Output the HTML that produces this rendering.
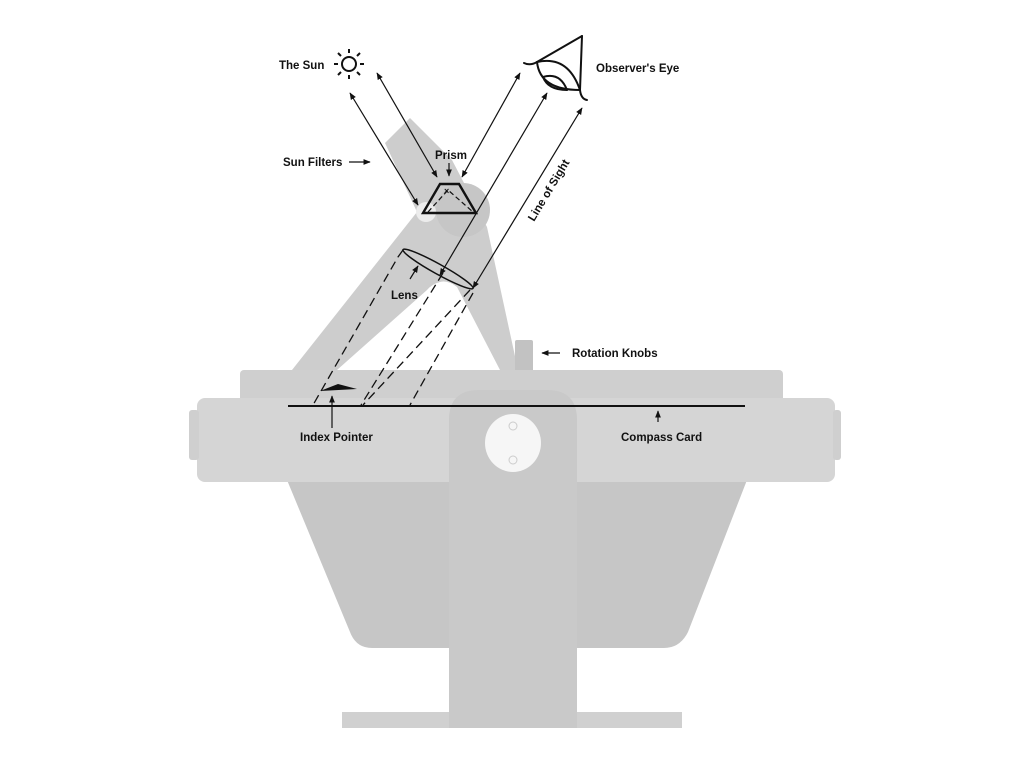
<!DOCTYPE html>
<html><head><meta charset="utf-8"><style>
html,body{margin:0;padding:0;background:#fff;}
svg{display:block;}
text{font-family:"Liberation Sans",sans-serif;font-weight:bold;font-size:11.5px;fill:#111;}
</style></head><body>
<svg width="1024" height="768" viewBox="0 0 1024 768" xmlns="http://www.w3.org/2000/svg">
<defs>
<marker id="ah" viewBox="0 0 10 10" refX="9" refY="5" markerWidth="6" markerHeight="6" orient="auto-start-reverse"><path d="M0,1 L10,5 L0,9 z" fill="#111"/></marker>
</defs>
<!-- arm -->
<path d="M292,370 L417,212 L385,143 L410,118 L432,140 L452,160 L487,227 L518,370 L500,370 L457,287 Q448,280 440,282 Q432,284 427,290 L337,370 Z" fill="#cdcdcd"/>
<circle cx="463" cy="210" r="27" fill="#c6c6c6"/>
<circle cx="426" cy="212" r="10" fill="#ececec"/>
<rect x="515" y="340" width="18" height="32" rx="2" fill="#c2c2c2"/>
<!-- bowl -->
<path d="M287,480 L747,480 L688,632 Q680,648 664,648 L372,648 Q356,648 350,632 Z" fill="#c6c6c6"/>
<!-- upper rim -->
<rect x="240" y="370" width="543" height="32" rx="4" fill="#cfcfcf"/>
<!-- rim band -->
<rect x="197" y="398" width="638" height="84" rx="8" fill="#d5d5d5"/>
<rect x="189" y="410" width="10" height="50" rx="3" fill="#cfcfcf"/>
<rect x="833" y="410" width="8" height="50" rx="3" fill="#cfcfcf"/>
<!-- base and stand -->
<rect x="342" y="712" width="340" height="16" fill="#d0d0d0"/>
<path d="M449,728 L449,420 Q449,390 479,390 L547,390 Q577,390 577,420 L577,728 Z" fill="#c9c9c9"/>
<ellipse cx="513" cy="443" rx="28" ry="29" fill="#f6f6f6"/>
<circle cx="513" cy="426" r="4" fill="none" stroke="#ccc" stroke-width="1"/>
<circle cx="513" cy="460" r="4" fill="none" stroke="#ccc" stroke-width="1"/>
<!-- compass card line -->
<line x1="288" y1="406" x2="745" y2="406" stroke="#111" stroke-width="2"/>
<!-- index pointer -->
<path d="M320,391 L338,384 L357,389 Z" fill="#111"/>
<line x1="332" y1="428" x2="332" y2="396" stroke="#111" stroke-width="1.2" marker-end="url(#ah)"/>
<line x1="658" y1="422" x2="658" y2="411" stroke="#111" stroke-width="1.2" marker-end="url(#ah)"/>
<!-- dashed lines -->
<g stroke="#111" stroke-width="1.3" fill="none" stroke-dasharray="9,5">
<path d="M403,250 L398,257 L313,405"/>
<path d="M443,273 L361,405"/>
<path d="M470,290 L363,405"/>
<path d="M473,293 L410,405"/>
</g>
<!-- sun -->
<circle cx="349" cy="64" r="7" fill="none" stroke="#111" stroke-width="2"/>
<g stroke="#111" stroke-width="2">
<line x1="349" y1="49" x2="349" y2="53"/><line x1="349" y1="75" x2="349" y2="79"/>
<line x1="334" y1="64" x2="338" y2="64"/><line x1="360" y1="64" x2="364" y2="64"/>
<line x1="338" y1="53" x2="341" y2="56"/><line x1="357" y1="72" x2="360" y2="75"/>
<line x1="360" y1="53" x2="357" y2="56"/><line x1="338" y1="75" x2="341" y2="72"/>
</g>
<!-- eye -->
<g stroke="#111" stroke-width="2" fill="none" stroke-linecap="round">
<path d="M582,36 L537,62"/>
<path d="M582,36 L580,90 Q581,99 587,100"/>
<path d="M524,63 Q530,66 537,62"/>
<path d="M537,62 Q568,55 580,90"/>
<path d="M537,62 Q540,90 580,90"/>
<path d="M543,77 Q560,72 567,90"/>
<path d="M543,77 Q548,90 567,90"/>
</g>
<!-- arrows -->
<g stroke="#111" stroke-width="1.2" fill="none">
<line x1="350" y1="93" x2="418" y2="205" marker-start="url(#ah)" marker-end="url(#ah)"/>
<line x1="377" y1="73" x2="437" y2="177" marker-start="url(#ah)" marker-end="url(#ah)"/>
<line x1="462" y1="177" x2="520" y2="73" marker-start="url(#ah)" marker-end="url(#ah)"/>
<line x1="547" y1="93" x2="440" y2="275" marker-start="url(#ah)" marker-end="url(#ah)"/>
<line x1="582" y1="108" x2="473" y2="288" marker-start="url(#ah)" marker-end="url(#ah)"/>
<line x1="449" y1="163" x2="449" y2="176" marker-end="url(#ah)"/>
<line x1="349" y1="162" x2="370" y2="162" marker-end="url(#ah)"/>
<line x1="560" y1="353" x2="542" y2="353" marker-end="url(#ah)"/>
<line x1="410" y1="279" x2="418" y2="266" marker-end="url(#ah)"/>
</g>
<!-- prism -->
<path d="M440,184 L459,184 L476,213 L423,213 Z" fill="none" stroke="#111" stroke-width="2.4"/>
<path d="M428,212 L448,190 L473,212" fill="none" stroke="#111" stroke-width="1.2" stroke-dasharray="5,3"/>
<text x="444" y="194" style="font-size:9px">×</text>
<!-- lens -->
<ellipse cx="438" cy="269" rx="40" ry="5" transform="rotate(29 438 269)" fill="none" stroke="#111" stroke-width="1.5"/>
<!-- labels -->
<text x="279" y="69">The Sun</text>
<text x="596" y="72">Observer's Eye</text>
<text x="283" y="166">Sun Filters</text>
<text x="435" y="159">Prism</text>
<text x="391" y="299">Lens</text>
<text x="572" y="357">Rotation Knobs</text>
<text x="300" y="441">Index Pointer</text>
<text x="621" y="441">Compass Card</text>
<text x="0" y="0" transform="translate(534,222) rotate(-59)">Line of Sight</text>
</svg>
</body></html>
